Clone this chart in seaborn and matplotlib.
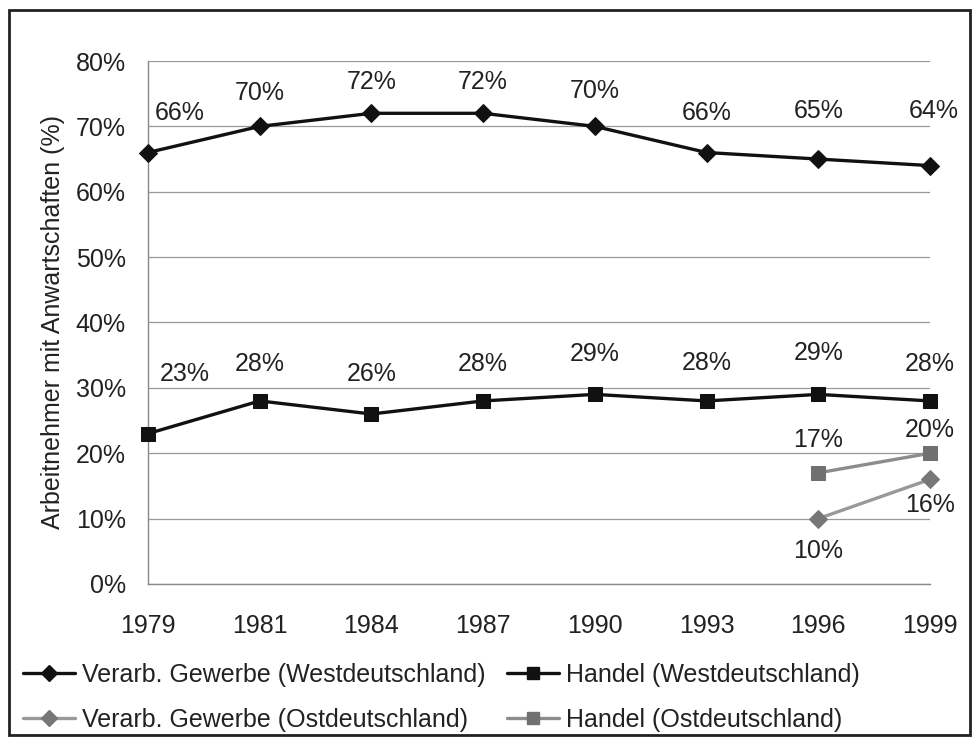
import numpy as np
import pandas as pd
import matplotlib
matplotlib.use('Agg')
import matplotlib.pyplot as plt
import matplotlib.patches as patches
from matplotlib.lines import Line2D
import seaborn as sns

years = ['1979', '1981', '1984', '1987', '1990', '1993', '1996', '1999']
gewerbe_west = [66, 70, 72, 72, 70, 66, 65, 64]
handel_west = [23, 28, 26, 28, 29, 28, 29, 28]
ost_years = ['1996', '1999']
gewerbe_ost = [10, 16]
handel_ost = [17, 20]

names = ['Verarb. Gewerbe (Westdeutschland)', 'Handel (Westdeutschland)',
         'Verarb. Gewerbe (Ostdeutschland)', 'Handel (Ostdeutschland)']

rows = []
for y, v in zip(years, gewerbe_west):
    rows.append((names[0], years.index(y), v))
for y, v in zip(years, handel_west):
    rows.append((names[1], years.index(y), v))
for y, v in zip(ost_years, gewerbe_ost):
    rows.append((names[2], years.index(y), v))
for y, v in zip(ost_years, handel_ost):
    rows.append((names[3], years.index(y), v))
df = pd.DataFrame(rows, columns=['serie', 'pos', 'wert'])

sns.set_style('white')
plt.rcParams['font.family'] = ['Liberation Sans', 'DejaVu Sans']
FS = 18
TXT = '#222222'

fig = plt.figure(figsize=(9.78, 7.44), dpi=100)
ax = fig.add_axes([0.1513, 0.2151, 0.7997, 0.7029])

styles = {
    names[0]: dict(color='#111111', marker='D', ms=9, lw=2.4, mfc='#111111'),
    names[1]: dict(color='#111111', marker='s', ms=10, lw=2.4, mfc='#111111'),
    names[2]: dict(color='#999999', marker='D', ms=9, lw=2.4, mfc='#777777'),
    names[3]: dict(color='#8c8c8c', marker='s', ms=10, lw=2.4, mfc='#707070'),
}

for name in names:
    st = styles[name]
    sub = df[df['serie'] == name]
    sns.lineplot(data=sub, x='pos', y='wert', ax=ax, color=st['color'],
                 marker=st['marker'], markersize=st['ms'], linewidth=st['lw'],
                 markerfacecolor=st['mfc'], markeredgecolor=st['mfc'],
                 legend=False, zorder=3, clip_on=False)

ax.set_ylim(0, 80)
ax.set_xlim(0, len(years) - 1)
ax.set_yticks(np.arange(0, 81, 10))
ax.set_yticklabels([f'{t}%' for t in range(0, 81, 10)])
ax.set_xticks(range(len(years)))
ax.set_xticklabels(years)
ax.tick_params(axis='both', labelsize=FS, colors=TXT)
ax.tick_params(axis='x', length=5.5, width=1, color='#888888', direction='out', pad=16)
ax.tick_params(axis='y', length=0, pad=16)
ax.grid(axis='y', color='#999999', lw=0.9)
for s in ['top', 'right']:
    ax.spines[s].set_visible(False)
for s in ['left', 'bottom']:
    ax.spines[s].set_color('#888888')
    ax.spines[s].set_linewidth(1)
ax.set_xlabel('')
ax.set_ylabel('Arbeitnehmer mit Anwartschaften (%)', fontsize=FS, color=TXT, labelpad=8)

# label offsets in pixels (dx, dy), positive dy = above the point
off_gw = [(32, 40), (0, 33), (0, 31), (0, 31), (0, 35), (0, 40), (0, 48), (4, 55)]
off_hw = [(37, 60), (0, 37), (0, 40), (0, 37), (0, 40), (0, 38), (0, 41), (0, 37)]
off_ho = [(0, 33), (0, 23)]
off_go = [(0, -32), (0, -26)]

def label(x, v, off):
    dx, dy = off
    ax.annotate(f'{v}%', (x, v), xytext=(dx * 0.72, dy * 0.72), textcoords='offset points',
                ha='center', va='center', fontsize=FS, color=TXT)

for i, v in enumerate(gewerbe_west):
    label(i, v, off_gw[i])
for i, v in enumerate(handel_west):
    label(i, v, off_hw[i])
for k, (y, v) in enumerate(zip(ost_years, handel_ost)):
    label(years.index(y), v, off_ho[k])
for k, (y, v) in enumerate(zip(ost_years, gewerbe_ost)):
    label(years.index(y), v, off_go[k])

handles = []
for name in names:
    st = styles[name]
    handles.append(Line2D([], [], color=st['color'], marker=st['marker'], lw=st['lw'],
                          markersize=st['ms'] - 1, markerfacecolor=st['mfc'],
                          markeredgecolor=st['mfc']))
order = [0, 2, 1, 3]
fig.legend([handles[i] for i in order], [names[i] for i in order], ncol=2,
           loc='upper left', bbox_to_anchor=(0.0235, 0.109), frameon=False,
           borderpad=0, borderaxespad=0,
           fontsize=FS, handlelength=2.08, handletextpad=0.28, columnspacing=0.85,
           labelspacing=0.85, labelcolor=TXT)

fig.patches.append(patches.Rectangle((0.009, 0.012), 0.983, 0.975, transform=fig.transFigure,
                                     fill=False, edgecolor='#222222', lw=2))

fig.savefig('out.png', dpi=100)
